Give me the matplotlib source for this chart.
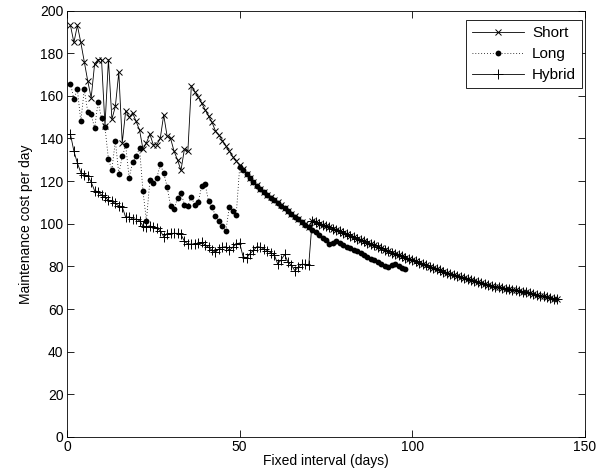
import matplotlib
matplotlib.use("Agg")
import matplotlib.pyplot as plt

plt.rcParams['font.family'] = ['Liberation Sans', 'DejaVu Sans']

# ---- data ----
short_x = list(range(1, 143))
short_y = [193, 185, 193, 185, 176, 167, 159, 175, 177, 177,
           146, 177, 149, 155, 171, 138, 153, 150, 152, 148,
           144, 135, 138, 142, 137, 137, 140, 151, 141, 140,
           134, 130, 125, 135, 134, 164.7, 162, 159.5, 156.5, 153.5,
           150.5, 147.5, 143.5, 141.5, 139, 136.5, 134, 131.5, 129.5, 127.5,
           125.5, 123.5, 121.5, 119.5, 118, 116.5, 115, 113.5, 112.5, 111.2,
           110, 108.7, 107.4, 106.1, 104.8, 103.5, 102.2, 101, 99.7, 98.5,
           101.5, 100.8, 100.1, 99.5, 98.9, 98.3, 97.7, 97.1, 96.5,
           95.8, 95.1, 94.4, 93.7, 93, 92.4, 91.8, 91.2, 90.6, 90,
           89.3, 88.6, 87.9, 87.2, 86.5, 85.9, 85.3, 84.7, 84.1, 83.5,
           82.9, 82.3, 81.7, 81.1, 80.5, 79.9, 79.3, 78.7, 78.1, 77.5,
           77, 76.5, 76, 75.5, 75, 74.5, 74, 73.5, 73, 72.5,
           72.1, 71.7, 71.3, 70.9, 70.5, 70.2, 69.9, 69.6, 69.3, 69,
           68.7, 68.4, 68.1, 67.8, 67.5, 67.1, 66.7, 66.3, 65.9, 65.5,
           65.2, 64.9, 64.7]

long_x = list(range(1, 99))
long_y = [165.7, 158.5, 163, 148, 163, 152.6, 151.3, 144.8, 157.2, 149.4,
          145.2, 130.3, 125.4, 138.9, 123.5, 131.6, 136.7, 121.5, 129, 131.6,
          135.5, 115.3, 101.5, 120.3, 119.2, 121.3, 127.8, 123.9, 117.3, 108.4,
          107, 111.9, 114.6, 109, 108.4, 112.6, 108.8, 110, 117.7, 118.5,
          110.5, 107.9, 103.7, 101.4, 98.8, 96.7, 107.9, 106, 104.2, 126.5,
          125.2, 123.3, 121.3, 119.4, 117.8, 116.3, 114.8, 113.4, 112.3, 111,
          109.8, 108.5, 107.2, 105.9, 104.6, 103.3, 102, 100.8, 99.5, 98.3,
          97.2, 96, 94.8, 93.5, 92.2, 90.5, 91, 92, 91,
          90, 89.3, 88.5, 87.8, 87, 86.2, 85.3, 84.5, 83.7, 83,
          82.2, 81.3, 80.3, 79.7, 80.5, 81, 80, 79.3, 78.8]

hybrid_x = list(range(1, 143))
hybrid_y = [142, 134, 128.5, 124, 123, 122.5, 119.5, 115.5, 115, 113.5,
            112.5, 111, 110.5, 109.5, 108.4, 107.9, 103, 103.3, 102.2, 102.2,
            101.4, 99, 98.6, 99, 98.3, 98, 96.7, 94, 95.2, 95.5,
            95.5, 95.5, 95, 91.8, 90.5, 90.5, 90.5, 90.8, 91.3, 90,
            89, 87.5, 86.7, 88.2, 89, 89.2, 87.5, 89, 90.5, 91,
            84.5, 84, 86, 87.5, 89.3, 89, 88.2, 87.4, 86.5, 85.5,
            81.2, 83, 85.6, 82, 80.5, 78, 79.7, 81, 81, 80.5] + short_y[70:]

xticks = [0, 50, 100, 150]
yticks = list(range(0, 201, 20))

# ---- figure ----
W, H = 604, 470
L, R, T, B = 67, 585, 10.5, 437
fig = plt.figure(figsize=(W / 100, H / 100), dpi=100)
ax = fig.add_axes([L / W, 1 - B / H, (R - L) / W, (B - T) / H])

ax.plot(short_x, short_y, color='black', linestyle='-', linewidth=0.6,
        marker='x', markersize=4, markeredgewidth=0.7, label='Short')
ax.plot(long_x, long_y, color='black', linestyle=(0, (1, 2.5)), linewidth=0.6,
        marker='o', markersize=4.2, markerfacecolor='black', markeredgewidth=0,
        label='Long')
ax.plot(hybrid_x, hybrid_y, color='black', linestyle='-', linewidth=0.6,
        marker='+', markersize=7, markeredgewidth=0.7, label='Hybrid')

ax.set_xlim(0, 150)
ax.set_ylim(0, 200)
ax.set_xticks(xticks)
ax.set_yticks(yticks)
ax.tick_params(direction='in', top=True, right=True, length=5, width=0.6,
               labelsize=10, pad=2.5)
for s in ax.spines.values():
    s.set_linewidth(0.6)

ax.set_xlabel('Fixed interval (days)', fontsize=10, labelpad=0)
ax.set_ylabel('Maintenance cost per day', fontsize=10, labelpad=5)

leg = ax.legend(loc='upper right', bbox_to_anchor=(582 / W, 1 - 20 / H),
                bbox_transform=fig.transFigure, borderaxespad=0,
                fontsize=11, fancybox=False, edgecolor='black', framealpha=1,
                handlelength=3.4, labelspacing=0.45, handletextpad=0.5,
                borderpad=0.4)
leg.get_frame().set_linewidth(0.6)

fig.savefig('out.png', dpi=100, facecolor='white')
